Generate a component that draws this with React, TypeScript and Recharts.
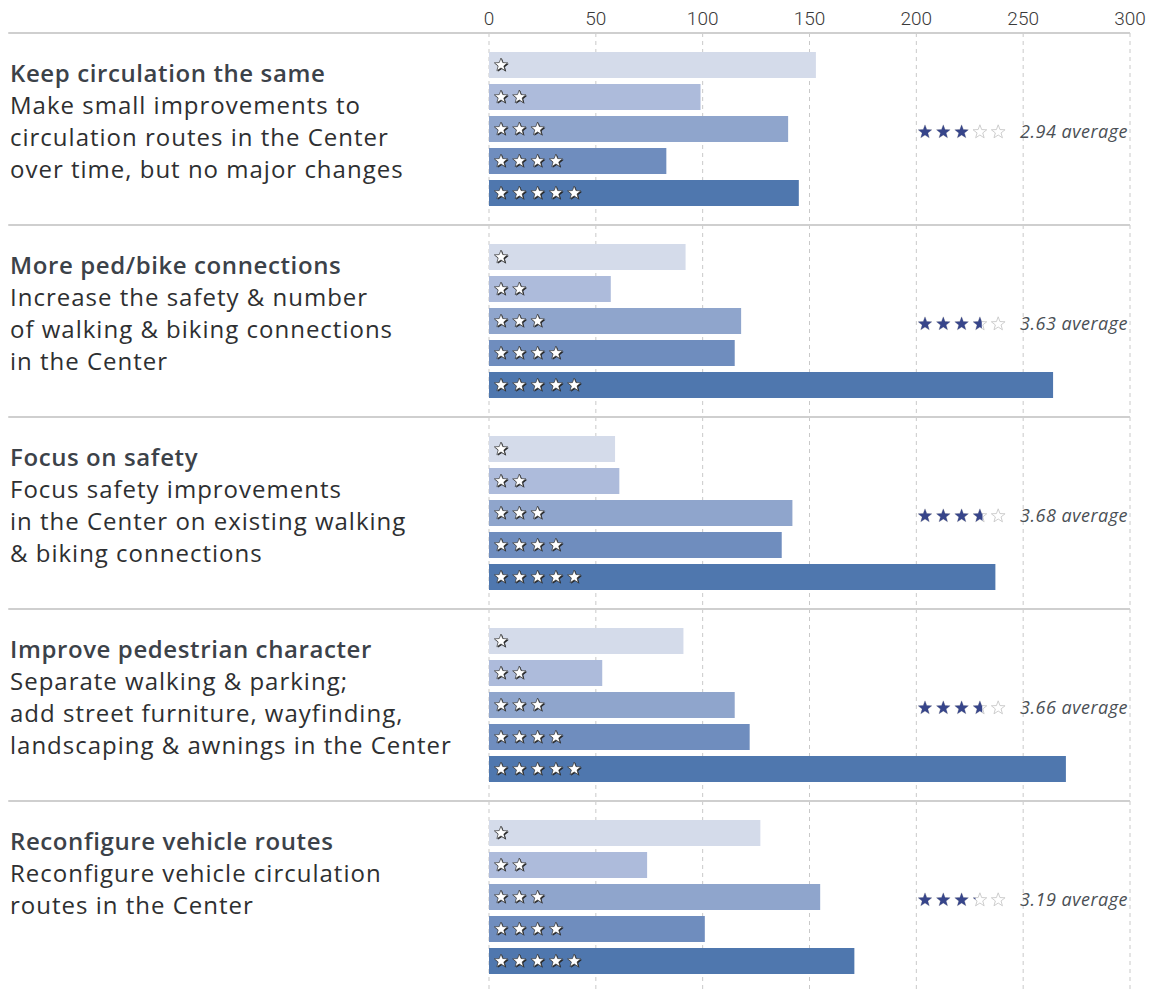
import { Bar, BarChart, CartesianGrid, Cell, LabelList, ReferenceLine, XAxis, YAxis } from "recharts";

const titles = [
  "Keep circulation the same",
  "More ped/bike connections",
  "Focus on safety",
  "Improve pedestrian character",
  "Reconfigure vehicle routes",
];

const descriptions = [
  ["Make small improvements to", "circulation routes in the Center", "over time, but no major changes"],
  ["Increase the safety & number", "of walking & biking connections", "in the Center"],
  ["Focus safety improvements", "in the Center on existing walking", "& biking connections"],
  ["Separate walking & parking;", "add street furniture, wayfinding,", "landscaping & awnings in the Center"],
  ["Reconfigure vehicle circulation", "routes in the Center"],
];

// votes per star rating (1..5 stars)
const starCounts = [1, 2, 3, 4, 5];
const keepSame = [153, 99, 140, 83, 145];
const pedBike = [92, 57, 118, 115, 264];
const safety = [59, 61, 142, 137, 237];
const pedestrian = [91, 53, 115, 122, 270];
const vehicle = [127, 74, 155, 101, 171];
const averages = [2.94, 3.63, 3.68, 3.66, 3.19];

const xTicks = [0, 50, 100, 150, 200, 250, 300];
const barColors = ["#d4dbea", "#adbbdb", "#8fa5cc", "#6f8dbe", "#4f77ae"];

const groups = [keepSame, pedBike, safety, pedestrian, vehicle];

const W = 1163;
const H = 993;
const LEFT = 489;
const RIGHT = 33;
const TOP = 33;
const SECTION = 192;

const rows = groups.flatMap((vals, g) =>
  vals.map((v, i) => ({
    pos: g * 6 + 1 + i,
    value: v,
    stars: starCounts[i],
    avg: i === 2 ? averages[g] : null,
  }))
);

function starPoints(cx: number, cy: number, ro: number, ri: number) {
  const pts: string[] = [];
  for (let k = 0; k < 10; k++) {
    const r = k % 2 === 0 ? ro : ri;
    const a = -Math.PI / 2 + (k * Math.PI) / 5;
    pts.push(`${(cx + r * Math.cos(a)).toFixed(2)},${(cy + r * Math.sin(a)).toFixed(2)}`);
  }
  return pts.join(" ");
}

function BarStars(props: any) {
  const { x, y, height, value } = props;
  if (value == null) return null;
  const cy = Number(y) + Number(height) / 2;
  const out = [];
  for (let i = 0; i < Number(value); i++) {
    const cx = Number(x) + 12 + i * 18.3;
    out.push(
      <g key={i}>
        <polygon points={starPoints(cx + 1, cy + 1, 7.2, 3.1)} fill="#262626" />
        <polygon points={starPoints(cx, cy, 7, 3)} fill="#fff" stroke="#333" strokeWidth={0.7} />
      </g>
    );
  }
  return <g>{out}</g>;
}

function AverageLabel(props: any) {
  const { y, height, value, index } = props;
  if (value == null) return null;
  const avg = Number(value);
  const cy = Number(y) + Number(height) / 2 + 3;
  const right = W - RIGHT;
  const x0 = right - 205;
  const items = [];
  for (let i = 0; i < 5; i++) {
    const cx = x0 + i * 18.3;
    const frac = Math.max(0, Math.min(1, avg - i));
    const id = `clip-avg-${index}-${i}`;
    items.push(
      <g key={i}>
        <polygon points={starPoints(cx, cy, 7.2, 3)} fill="#fff" stroke="#c8c8c8" strokeWidth={0.9} />
        {frac > 0 && (
          <>
            <clipPath id={id}>
              <rect x={cx - 7.2} y={cy - 8} width={14.4 * frac} height={16} />
            </clipPath>
            <polygon points={starPoints(cx, cy, 7.2, 3)} fill="#37458a" clipPath={`url(#${id})`} />
          </>
        )}
      </g>
    );
  }
  return (
    <g>
      {items}
      <text
        x={right - 2}
        y={cy + 6}
        textAnchor="end"
        fontFamily="'Open Sans', sans-serif"
        fontStyle="italic"
        fontSize={18}
        letterSpacing={0.5}
        fill="#4a4f55"
      >
        {`${avg.toFixed(2)} average`}
      </text>
    </g>
  );
}

export default function App() {
  return (
    <div
      style={{
        position: "absolute",
        left: 0,
        top: 0,
        width: 1163,
        height: 990,
        overflow: "hidden",
        background: "#fff",
      }}
    >
      <BarChart
        width={W}
        height={H}
        data={rows}
        layout="vertical"
        margin={{ top: TOP - 30, right: RIGHT, left: LEFT, bottom: 0 }}
      >
        <CartesianGrid vertical horizontal={false} stroke="#c9c9c9" strokeDasharray="4 4" />
        <XAxis
          type="number"
          orientation="top"
          domain={[0, 300]}
          ticks={xTicks}
          height={30}
          axisLine={false}
          tickLine={false}
          tickSize={0}
          tickMargin={8}
          tick={{ fill: "#3a3a3a", fontSize: 19, fontFamily: "Roboto, 'Liberation Sans', sans-serif", fontWeight: 300 }}
        />
        <YAxis type="number" dataKey="pos" domain={[0, 30]} ticks={[0, 6, 12, 18, 24, 30]} hide />
        {[0, 6, 12, 18, 24].map((p) => (
          <ReferenceLine
            key={p}
            segment={[
              { x: -225, y: p },
              { x: 300, y: p },
            ]}
            ifOverflow="visible"
            stroke="#cfcfcf"
            strokeWidth={2}
          />
        ))}
        <Bar dataKey="value" barSize={26} isAnimationActive={false}>
          {rows.map((r, i) => (
            <Cell key={i} fill={barColors[r.stars - 1]} />
          ))}
          <LabelList dataKey="stars" content={BarStars} />
          <LabelList dataKey="avg" content={AverageLabel} />
        </Bar>
      </BarChart>
      {titles.map((t, g) => (
        <div
          key={t}
          style={{
            position: "absolute",
            left: 10,
            top: TOP + g * SECTION + 24,
            fontFamily: "'Open Sans', sans-serif",
            fontSize: 24,
            lineHeight: "32px",
            letterSpacing: "1px",
            color: "#2e2f31",
            whiteSpace: "nowrap",
          }}
        >
          <div style={{ fontWeight: 600, color: "#3c4249", letterSpacing: "0.6px" }}>{t}</div>
          {descriptions[g].map((d) => (
            <div key={d}>{d}</div>
          ))}
        </div>
      ))}
    </div>
  );
}
